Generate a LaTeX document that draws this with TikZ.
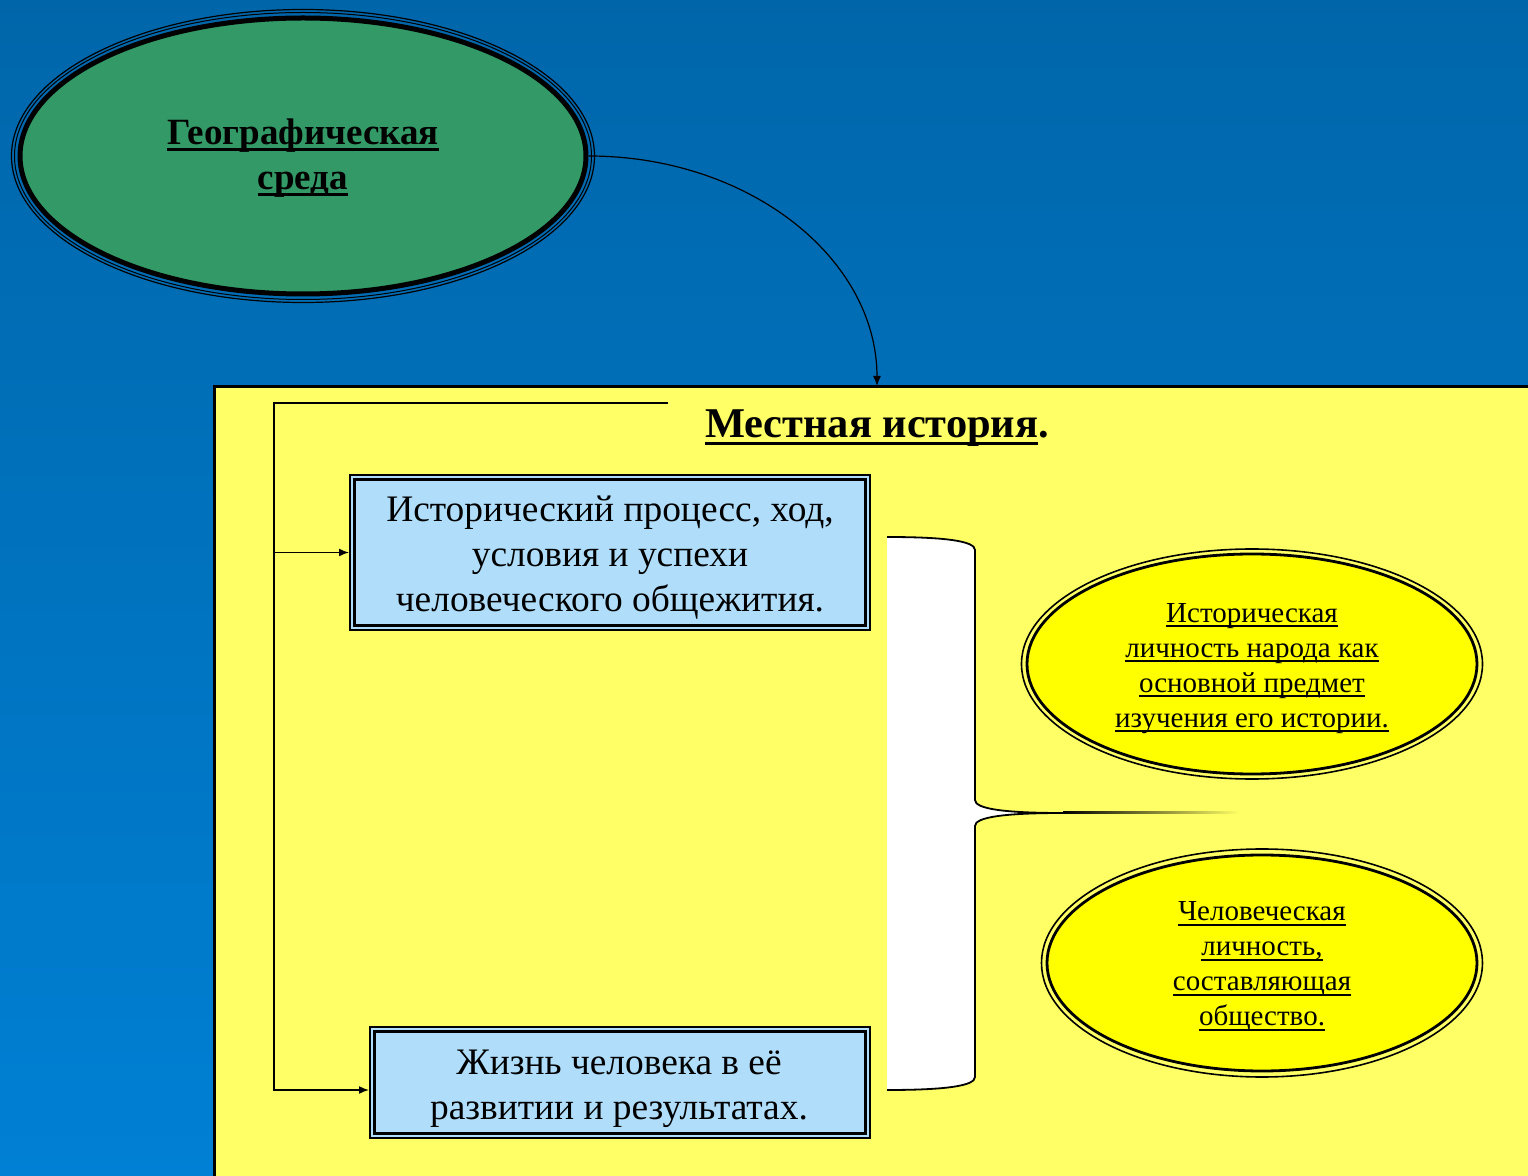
\documentclass[tikz,border=0pt]{standalone}
\usepackage{fontspec}
\setmainfont{Liberation Serif}
\usetikzlibrary{shapes.geometric,arrows.meta}
\definecolor{bgtop}{RGB}{0,102,170}
\definecolor{bgbot}{RGB}{0,128,212}
\definecolor{geogreen}{RGB}{51,153,102}
\definecolor{panelyellow}{RGB}{255,255,102}
\definecolor{ovalyellow}{RGB}{255,255,0}
\definecolor{boxblue}{RGB}{176,222,250}
\newlength\ulthick \setlength\ulthick{1pt}
\newlength\uldepth
\newcommand{\myul}[1]{\setlength\uldepth{0.17em}\setbox0\hbox{#1}\rlap{\rule[-\uldepth]{\wd0}{\ulthick}}\box0}
\begin{document}
\begin{tikzpicture}[x=0.5pt,y=-0.5pt,
  infobox/.style={rectangle, draw=black, line width=1pt, fill=boxblue, inner sep=0pt},
  boxtext/.style={inner sep=0pt, align=center, font=\fontsize{18.7}{22.5}\selectfont},
  oval/.style={ellipse, draw=black, line width=1.4pt, fill=ovalyellow, inner sep=0pt},
  ovaltext/.style={inner sep=0pt, align=center, font=\setlength\ulthick{0.9pt}\fontsize{14.5}{17.5}\selectfont},
  ring/.style={draw=black, line width=0.8pt},
  link/.style={draw=black, line width=0.75pt},
  tipped/.style={-{Latex[length=5pt,width=4pt]}}]
\useasboundingbox (0,0) rectangle (1528,1176);
\clip (0,0) rectangle (1528,1176);
% background
\shade[top color=bgtop, bottom color=bgbot] (0,0) rectangle (1528,1176);
% panel
\path[fill=panelyellow, draw=black, line width=1.5pt] (214,387) rectangle (1545,1195);
\coordinate (pin) at (877,386);
\node (title) at (877,428) {\setlength\ulthick{1.4pt}\fontsize{21.2}{25}\selectfont\bfseries\myul{Местная история}.};

% geographic ellipse
\draw[black, line width=0.6pt] (303,156) ellipse [x radius=291.5, y radius=146.5];
\draw[black, line width=0.5pt] (303,156) ellipse [x radius=288.5, y radius=143.5];
\node (geo) [ellipse, draw=black, line width=2.5pt, fill=geogreen, minimum width=283pt, minimum height=138pt,
  inner sep=0pt] at (303,156) {};
\node (geotext) [inner sep=0pt, align=center, font=\setlength\ulthick{1.3pt}\fontsize{18.5}{22.5}\selectfont\bfseries]
  at (303,158) {\myul{Географическая}\\\myul{среда}};

% curved arrow
\draw[link, line width=0.6pt, tipped] (geo.east) .. controls (750,156) and (877,259) .. (pin);

% boxes
\node (b1) [infobox, minimum width=260pt, minimum height=77.5pt] at (610,552.5) {};
\draw[black, line width=1.5pt] ([shift={(5.5,5.5)}]b1.north west) rectangle ([shift={(-5.5,-5.5)}]b1.south east);
\node (b1text) [boxtext] at (610,558)
  {Исторический процесс, ход,\\условия и успехи\\человеческого общежития.};
\node (b2) [infobox, minimum width=250pt, minimum height=55.5pt] at (620,1082.5) {};
\draw[black, line width=1.5pt] ([shift={(5.5,5.5)}]b2.north west) rectangle ([shift={(-5.5,-5.5)}]b2.south east);
\node (b2text) [boxtext] at (619,1089)
  {Жизнь человека в её\\развитии и результатах.};

% left connector
\coordinate (tr) at (668,403);
\coordinate (tl) at (274,403);
\draw[link, tipped] (tr) -- (tl) |- ([yshift=-3.75pt]b2.west);
\draw[link, tipped] (tl |- b1.west) -- (b1.west);

% brace
\coordinate (btop) at (887,537);
\coordinate (bbot) at (887,1090);
\coordinate (btip) at (1063,813);
\fill[white] (btop) .. controls (945,537) and (975,541) .. (975,550) -- (975,800)
  .. controls (975,809) and (1005,813) .. (btip)
  .. controls (1005,813) and (975,817) .. (975,826) -- (975,1077)
  .. controls (975,1086) and (945,1090) .. (bbot) -- cycle;
\draw[black, line width=0.9pt] (btop) .. controls (945,537) and (975,541) .. (975,550) -- (975,800)
  .. controls (975,809) and (1005,813) .. (btip)
  .. controls (1005,813) and (975,817) .. (975,826) -- (975,1077)
  .. controls (975,1086) and (945,1090) .. (bbot);
\shade[left color=black, right color=panelyellow] (btip) ++(0,-1) rectangle (1240,814);

% yellow ellipses
\draw[ring] (1252,664) ellipse [x radius=230.5, y radius=115];
\node (o1) [oval, minimum width=225pt, minimum height=110pt] at (1252,664) {};
\node (o1text) [ovaltext] at (1252,668.5)
  {\myul{Историческая}\\\myul{личность народа как}\\\myul{основной предмет}\\\myul{изучения его истории.}};
\draw[ring] (1262,963) ellipse [x radius=220.5, y radius=114];
\node (o2) [oval, minimum width=215pt, minimum height=108pt] at (1262,963) {};
\node (o2text) [ovaltext] at (1262,967)
  {\myul{Человеческая}\\\myul{личность,}\\\myul{составляющая}\\\myul{общество.}};
\end{tikzpicture}
\end{document}
